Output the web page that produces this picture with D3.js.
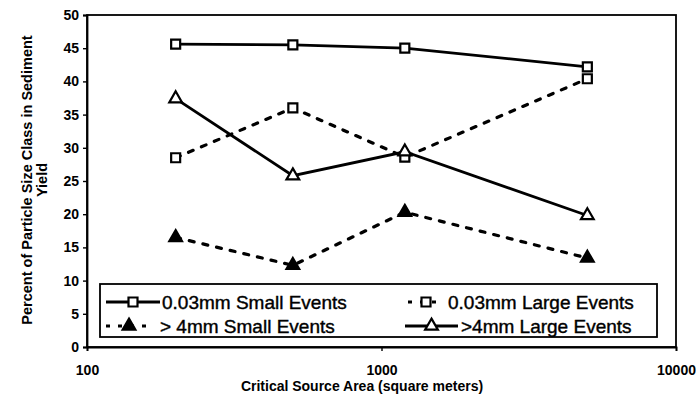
<!DOCTYPE html>
<html>
<head>
<meta charset="utf-8">
<script src="https://cdn.jsdelivr.net/npm/d3@7"></script>
<style>
  html, body { margin: 0; padding: 0; background: #fff; }
  svg { display: block; }
  text { font-family: "Liberation Sans", Arial, sans-serif; fill: #000; }
</style>
</head>
<body>
<div id="chart"></div>
<script>
// ---- data ----
const areas = [200, 500, 1200, 5000];
const small003 = [45.6, 45.5, 45.0, 42.2];
const large003 = [28.5, 36.0, 28.6, 40.4];
const small4 = [16.5, 12.3, 20.3, 13.4];
const large4 = [37.4, 25.8, 29.4, 19.8];
const seriesNames = ["0.03mm Small Events", "0.03mm Large Events", "> 4mm Small Events", ">4mm Large Events"];
const xTicks = [100, 1000, 10000];
const yTicks = [0, 5, 10, 15, 20, 25, 30, 35, 40, 45, 50];

const W = 696, H = 402;
const M = { left: 87, right: 676, top: 15, bottom: 347 };

const svg = d3.select("#chart").append("svg").attr("width", W).attr("height", H);

const x = d3.scaleLog().domain([100, 10000]).range([M.left, M.right]);
const y = d3.scaleLinear().domain([0, 50]).range([M.bottom, M.top]);

// plot frame
svg.append("rect")
  .attr("x", M.left).attr("y", M.top)
  .attr("width", M.right - M.left).attr("height", M.bottom - M.top)
  .attr("fill", "none").attr("stroke", "#000").attr("stroke-width", 1.8);

// y axis
const yAxis = svg.append("g").attr("transform", `translate(${M.left},0)`)
  .call(d3.axisLeft(y).tickValues(yTicks).tickSize(4).tickPadding(4).tickFormat(d3.format("d")));
yAxis.select(".domain").attr("stroke-width", 1.8);
yAxis.selectAll(".tick line").attr("stroke-width", 1.4);
yAxis.selectAll("text").style("font-size", "14px").style("font-weight", "bold")
  .style("font-family", "'Liberation Sans', Arial, sans-serif");

// x axis
const xAxis = svg.append("g").attr("transform", `translate(0,${M.bottom})`)
  .call(d3.axisBottom(x).tickValues(xTicks).tickSize(4).tickPadding(14).tickFormat(d3.format("d")));
xAxis.select(".domain").attr("stroke-width", 1.8);
xAxis.selectAll(".tick line").attr("stroke-width", 1.4);
xAxis.selectAll("text").style("font-size", "14px").style("font-weight", "bold")
  .style("font-family", "'Liberation Sans', Arial, sans-serif");

// axis titles
svg.append("text")
  .attr("x", 362).attr("y", 391)
  .attr("text-anchor", "middle")
  .style("font-size", "14px").style("font-weight", "bold")
  .text("Critical Source Area (square meters)");

const yt = svg.append("text")
  .attr("transform", "translate(32,180) rotate(-90)")
  .attr("text-anchor", "middle")
  .style("font-size", "14.5px").style("font-weight", "bold");
yt.append("tspan").attr("x", 0).attr("dy", 0).text("Percent of Particle Size Class in Sediment");
yt.append("tspan").attr("x", 0).attr("dy", 15).text("Yield");

// series
const series = [
  { name: seriesNames[0], values: small003, dash: null, marker: "square", fill: "#fff" },
  { name: seriesNames[1], values: large003, dash: "5,9", marker: "square", fill: "#fff" },
  { name: seriesNames[2], values: small4, dash: "5,9", marker: "triangle", fill: "#000" },
  { name: seriesNames[3], values: large4, dash: null, marker: "triangle", fill: "#fff" }
];

const line = d3.line().x(d => x(d.a)).y(d => y(d.v));
const sqSym = d3.symbol().type(d3.symbolSquare).size(81);
const triSym = d3.symbol().type(d3.symbolTriangle).size(70);

series.forEach(s => {
  const pts = areas.map((a, i) => ({ a, v: s.values[i] }));
  svg.append("path").datum(pts)
    .attr("d", line)
    .attr("fill", "none").attr("stroke", "#000")
    .attr("stroke-width", s.dash ? 3.2 : 2.8)
    .attr("stroke-linecap", s.dash ? "round" : "butt")
    .attr("stroke-dasharray", s.dash);
  svg.selectAll(null).data(pts).enter().append("path")
    .attr("transform", d => `translate(${x(d.a)},${y(d.v)})`)
    .attr("d", s.marker === "square" ? sqSym() : triSym())
    .attr("fill", s.fill).attr("stroke", "#000").attr("stroke-width", 2.2);
});

// legend
const lg = svg.append("g");
lg.append("rect").attr("x", 100).attr("y", 284).attr("width", 557).attr("height", 53)
  .attr("fill", "#fff").attr("stroke", "#000").attr("stroke-width", 1.8);

const legendItems = [
  { s: series[0], x0: 106, x1: 160, tx: 162, ty: 309 },
  { s: series[1], x0: 408, x1: 444, tx: 448, ty: 309 },
  { s: series[2], x0: 106, x1: 152, tx: 160, ty: 333 },
  { s: series[3], x0: 405, x1: 458, tx: 461, ty: 333 }
];
legendItems.forEach(it => {
  const cy = it.ty - 7;
  lg.append("line").attr("x1", it.x0).attr("x2", it.x1).attr("y1", cy).attr("y2", cy)
    .attr("stroke", "#000").attr("stroke-width", it.s.dash ? 3 : 2.8)
    .attr("stroke-dasharray", it.s.dash ? "4,8" : null);
  lg.append("path")
    .attr("transform", `translate(${(it.x0 + it.x1) / 2},${cy})`)
    .attr("d", it.s.marker === "square" ? sqSym() : triSym())
    .attr("fill", it.s.fill).attr("stroke", "#000").attr("stroke-width", 2.2);
  lg.append("text").attr("x", it.tx).attr("y", it.ty)
    .style("font-size", "19px")
    .style("stroke", "#000").style("stroke-width", "0.4px")
    .text(it.s.name);
});
</script>
</body>
</html>
